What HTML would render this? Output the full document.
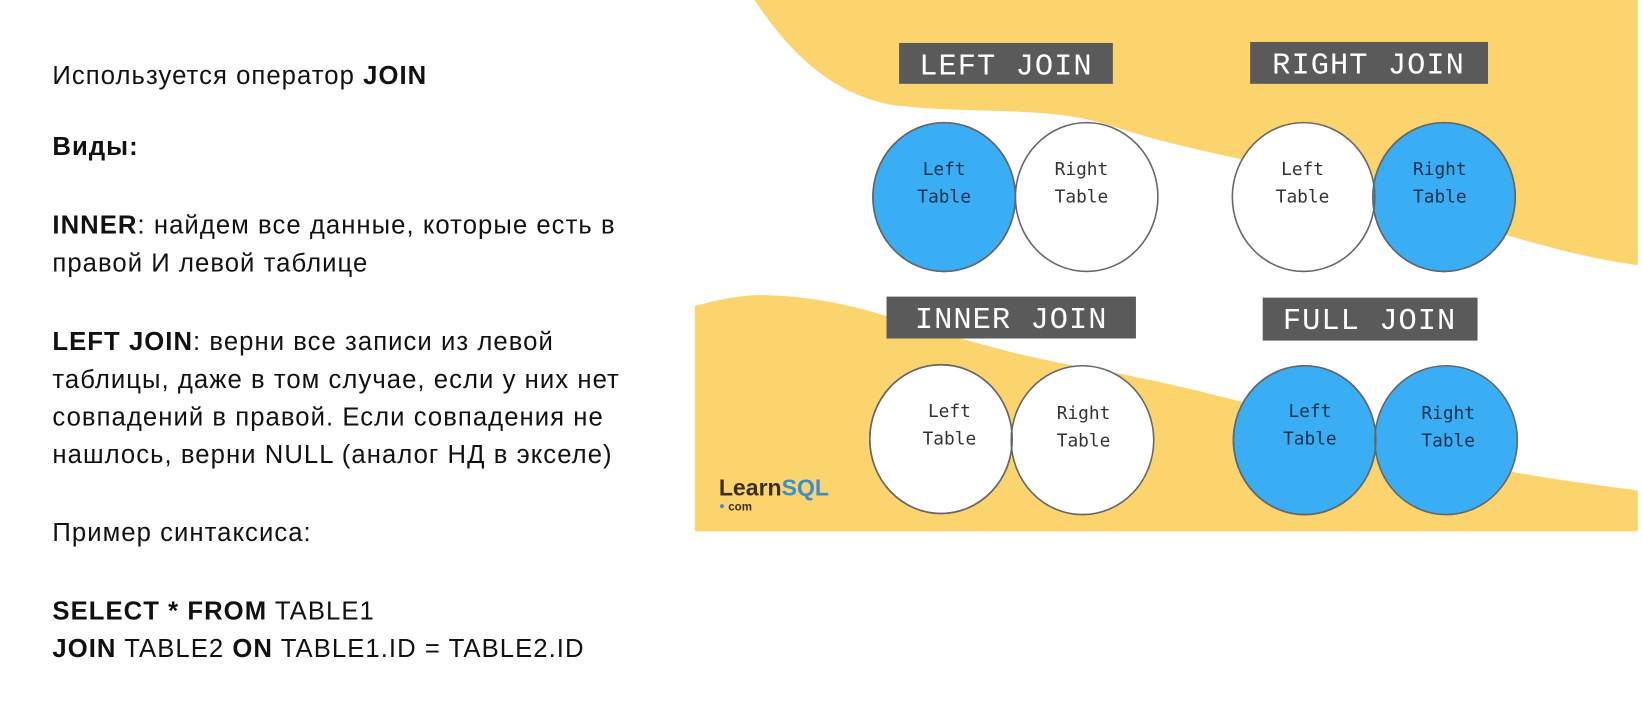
<!DOCTYPE html>
<html><head><meta charset="utf-8"><style>
html,body{margin:0;padding:0;background:#fff;width:1643px;height:721px;overflow:hidden}
#w{position:absolute;left:0;top:0;width:1568px;height:688px;transform-origin:0 0;transform:scale(1.0479,1.048)}
.t{position:absolute;left:50px;font-family:"Liberation Sans","DejaVu Sans",sans-serif;font-size:24.5px;letter-spacing:1px;color:#111;white-space:nowrap;line-height:36px}
b{font-weight:bold}
</style></head><body><div id="w">
<div class="t" style="top:55px">Используется оператор <b>JOIN</b></div>
<div class="t" style="top:123px"><b>Виды:</b></div>
<div class="t" style="top:198px"><b>INNER</b>: найдем все данные, которые есть в<br>правой И левой таблице</div>
<div class="t" style="top:309px"><b>LEFT JOIN</b>: верни все записи из левой<br>таблицы, даже в том случае, если у них нет<br>совпадений в правой. Если совпадения не<br>нашлось, верни NULL (аналог НД в экселе)</div>
<div class="t" style="top:491px">Пример синтаксиса:</div>
<div class="t" style="top:566px"><b>SELECT * FROM</b> TABLE1<br><b>JOIN</b> TABLE2 <b>ON</b> TABLE1.ID = TABLE2.ID</div>

<svg style="position:absolute;left:663px;top:0" width="900" height="507" viewBox="663 0 900 507">
<defs>
<clipPath id="c1"><ellipse cx="901" cy="188" rx="68" ry="71"/></clipPath>
<clipPath id="c2"><ellipse cx="1378" cy="188" rx="68" ry="71"/></clipPath>
<clipPath id="c3"><ellipse cx="898" cy="419" rx="68" ry="71"/></clipPath>
</defs>
<rect x="663" y="0" width="900" height="507" fill="#fff"/>
<path d="M720 0 C760 60 800 90 850 100 C930 110 1000 100 1060 120 C1150 150 1250 160 1330 190 C1420 220 1500 245 1563 253 L1563 0 Z" fill="#fcd46e"/>
<path d="M663 507 L663 292 C690 285 710 280 740 282 C800 285 840 300 900 318 C960 336 1000 345 1060 355 C1150 372 1250 400 1350 430 C1450 455 1520 462 1563 468 L1563 507 Z" fill="#fcd46e"/>
<g stroke="#666" stroke-width="1.5">
<ellipse cx="901" cy="188" rx="68" ry="71" fill="#3aaef5"/>
<ellipse cx="1037" cy="188" rx="68" ry="71" fill="#fff"/>
<ellipse cx="1037" cy="188" rx="68" ry="71" fill="#3aaef5" clip-path="url(#c1)"/>
<ellipse cx="901" cy="188" rx="68" ry="71" fill="none"/>
<ellipse cx="1378" cy="188" rx="68" ry="71" fill="#3aaef5"/>
<ellipse cx="1244" cy="188" rx="68" ry="71" fill="#fff"/>
<ellipse cx="1244" cy="188" rx="68" ry="71" fill="#3aaef5" clip-path="url(#c2)"/>
<ellipse cx="1378" cy="188" rx="68" ry="71" fill="none"/>
<ellipse cx="898" cy="419" rx="68" ry="71" fill="#fff"/>
<ellipse cx="1033" cy="420" rx="68" ry="71" fill="#fff"/>
<ellipse cx="1033" cy="420" rx="68" ry="71" fill="#3aaef5" clip-path="url(#c3)"/>
<ellipse cx="898" cy="419" rx="68" ry="71" fill="none"/>
<ellipse cx="1245" cy="420" rx="68" ry="71" fill="#3aaef5"/>
<ellipse cx="1380" cy="420" rx="68" ry="71" fill="#3aaef5"/>
<ellipse cx="1245" cy="420" rx="68" ry="71" fill="none"/>
</g>
<g fill="#5a5a5a">
<rect x="858" y="41" width="204" height="39"/>
<rect x="1193" y="40" width="227" height="40"/>
<rect x="846" y="283" width="238" height="40"/>
<rect x="1205" y="284" width="205" height="41"/>
</g>
<g font-family="Liberation Mono,DejaVu Sans Mono,monospace" font-size="29" fill="#fff" text-anchor="middle" letter-spacing="1">
<text x="960" y="71">LEFT JOIN</text>
<text x="1306" y="70">RIGHT JOIN</text>
<text x="965" y="313">INNER JOIN</text>
<text x="1307" y="314">FULL JOIN</text>
</g>
<g font-family="DejaVu Sans Mono,Liberation Mono,monospace" font-size="17" text-anchor="middle">
<text x="901" y="167" fill="#163049">Left</text><text x="901" y="193" fill="#163049">Table</text>
<text x="1032" y="167" fill="#333">Right</text><text x="1032" y="193" fill="#333">Table</text>
<text x="1243" y="167" fill="#333">Left</text><text x="1243" y="193" fill="#333">Table</text>
<text x="1374" y="167" fill="#163049">Right</text><text x="1374" y="193" fill="#163049">Table</text>
<text x="906" y="398" fill="#333">Left</text><text x="906" y="424" fill="#333">Table</text>
<text x="1034" y="400" fill="#333">Right</text><text x="1034" y="426" fill="#333">Table</text>
<text x="1250" y="398" fill="#163049">Left</text><text x="1250" y="424" fill="#163049">Table</text>
<text x="1382" y="400" fill="#163049">Right</text><text x="1382" y="426" fill="#163049">Table</text>
</g>
<text x="686" y="473" font-family="Liberation Sans,sans-serif" font-size="22" font-weight="bold" fill="#3b3020">Learn<tspan fill="#3a8fd0">SQL</tspan></text>
<circle cx="689" cy="483" r="2" fill="#3a8fd0"/>
<text x="695" y="487" font-family="Liberation Sans,sans-serif" font-size="11" font-weight="bold" fill="#3b3020">com</text>
</svg>
</div></body></html>
